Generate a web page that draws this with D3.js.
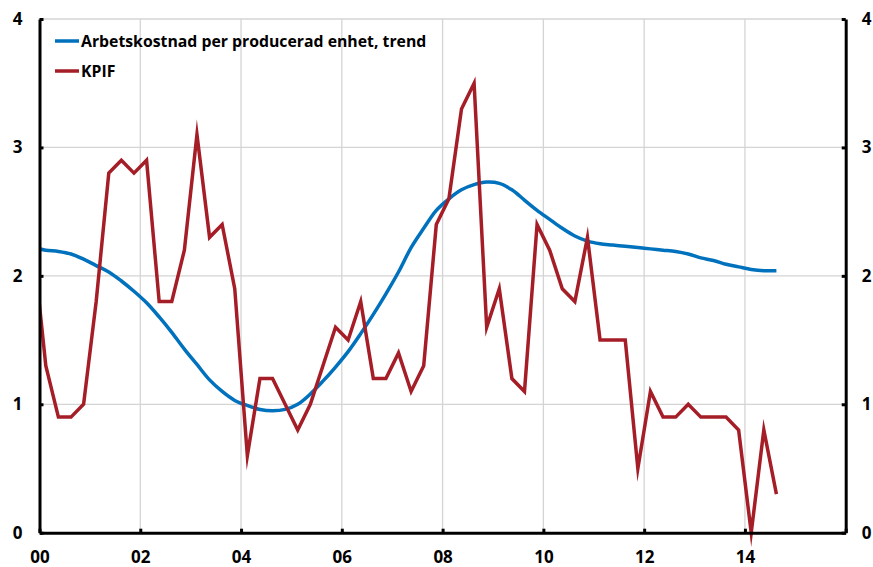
<!DOCTYPE html>
<html><head><meta charset="utf-8">
<script src="https://cdn.jsdelivr.net/npm/d3@7"></script>
<style>body{margin:0;background:#fff}svg{display:block}</style>
</head><body><svg id="c" width="873" height="567"></svg>
<script>
// Quarterly series, first quarter 1999 Q4 (plotted mid-quarter)
const firstYear = 1999, firstQuarter = 4;
const trendValues = [2.22,2.20,2.19,2.17,2.13,2.08,2.03,1.96,1.88,1.79,1.68,1.56,1.43,1.31,1.19,1.10,1.03,0.99,0.96,0.95,0.96,1.00,1.08,1.18,1.29,1.41,1.55,1.70,1.86,2.03,2.22,2.37,2.51,2.60,2.67,2.71,2.73,2.72,2.67,2.59,2.51,2.44,2.37,2.31,2.27,2.25,2.24,2.23,2.22,2.21,2.20,2.19,2.17,2.14,2.12,2.09,2.07,2.05,2.04,2.04];
const kpifValues = [2.24,1.3,0.9,0.9,1.0,1.8,2.8,2.9,2.8,2.9,1.8,1.8,2.2,3.1,2.3,2.4,1.9,0.6,1.2,1.2,1.0,0.8,1.0,1.3,1.6,1.5,1.8,1.2,1.2,1.4,1.1,1.3,2.4,2.6,3.3,3.5,1.6,1.9,1.2,1.1,2.4,2.2,1.9,1.8,2.3,1.5,1.5,1.5,0.5,1.1,0.9,0.9,1.0,0.9,0.9,0.9,0.8,0.0,0.8,0.3];
const seriesNames = ["Arbetskostnad per producerad enhet, trend", "KPIF"];
const seriesColors = ["#0071BC", "#A51D26"];
const xTicks = [2000,2002,2004,2006,2008,2010,2012,2014,2016];
const xTickLabels = ["00","02","04","06","08","10","12","14",""];
const yTicks = [0,1,2,3,4];

const time = i => firstYear + (firstQuarter - 1 + i + 0.5) / 4;
const trend = trendValues.map((v,i)=>({t:time(i), v}));
const kpif = kpifValues.map((v,i)=>({t:time(i), v}));

const svg = d3.select("#c");
const L = 39.5, R = 845.7, T = 19, B = 532.7;
const x = d3.scaleLinear().domain([2000,2016]).range([L,R]);
const y = d3.scaleLinear().domain([0,4]).range([B,T]);
const font = "'Open Sans', 'Noto Sans', sans-serif";

// gridlines
const grid = svg.append("g").attr("stroke","#d4d4d4").attr("stroke-width",1.3);
grid.selectAll("line.h").data(yTicks.filter(d=>d>0)).join("line")
  .attr("x1",L).attr("x2",R).attr("y1",d=>y(d)).attr("y2",d=>y(d));
grid.selectAll("line.v").data(xTicks.filter(d=>d>2000 && d<2016)).join("line")
  .attr("y1",T).attr("y2",B).attr("x1",d=>x(d)).attr("x2",d=>x(d));

// clip
svg.append("clipPath").attr("id","clip").append("rect")
  .attr("x",L).attr("y",0).attr("width",R-L).attr("height",567);

svg.append("path").datum(trend).attr("clip-path","url(#clip)")
  .attr("fill","none").attr("stroke",seriesColors[0]).attr("stroke-width",3.5)
  .attr("d", d3.line().x(d=>x(d.t)).y(d=>y(d.v)).curve(d3.curveCatmullRom)(trend));
svg.append("path").datum(kpif).attr("clip-path","url(#clip)")
  .attr("fill","none").attr("stroke",seriesColors[1]).attr("stroke-width",3.5)
  .attr("stroke-linejoin","miter").attr("stroke-miterlimit",10)
  .attr("d", d3.line().x(d=>x(d.t)).y(d=>y(d.v))(kpif));

// axes
function styleAxis(g){
  g.select(".domain").attr("stroke","#000").attr("stroke-width",3);
  g.selectAll(".tick line").attr("stroke","#000").attr("stroke-width",3);
  g.selectAll(".tick text").attr("fill","#000").attr("font-family",font)
    .attr("font-weight","700").attr("font-size","17px");
}
svg.append("g").attr("transform",`translate(${L},0)`)
  .call(d3.axisLeft(y).tickValues(yTicks).tickFormat(d3.format("d")).tickSize(-4).tickSizeOuter(0).tickPadding(17))
  .call(styleAxis);
svg.append("g").attr("transform",`translate(${R},0)`)
  .call(d3.axisRight(y).tickValues(yTicks).tickFormat(d3.format("d")).tickSize(-4).tickSizeOuter(0).tickPadding(16))
  .call(styleAxis);
svg.append("g").attr("transform",`translate(0,${B})`)
  .call(d3.axisBottom(x).tickValues(xTicks).tickFormat((d,i)=>xTickLabels[i]).tickSize(-4).tickSizeOuter(0).tickPadding(18))
  .call(styleAxis);

// legend
const leg = svg.append("g");
seriesNames.forEach((n,i)=>{
  const yy = 41 + i*30;
  leg.append("line").attr("x1",55).attr("x2",79).attr("y1",yy).attr("y2",yy)
    .attr("stroke",seriesColors[i]).attr("stroke-width",3.5);
  leg.append("text").attr("x",81).attr("y",yy).attr("dy","0.35em")
    .attr("font-family",font).attr("font-weight","700").attr("font-size","15.8px")
    .attr("fill","#000").text(n);
});
</script></body></html>
